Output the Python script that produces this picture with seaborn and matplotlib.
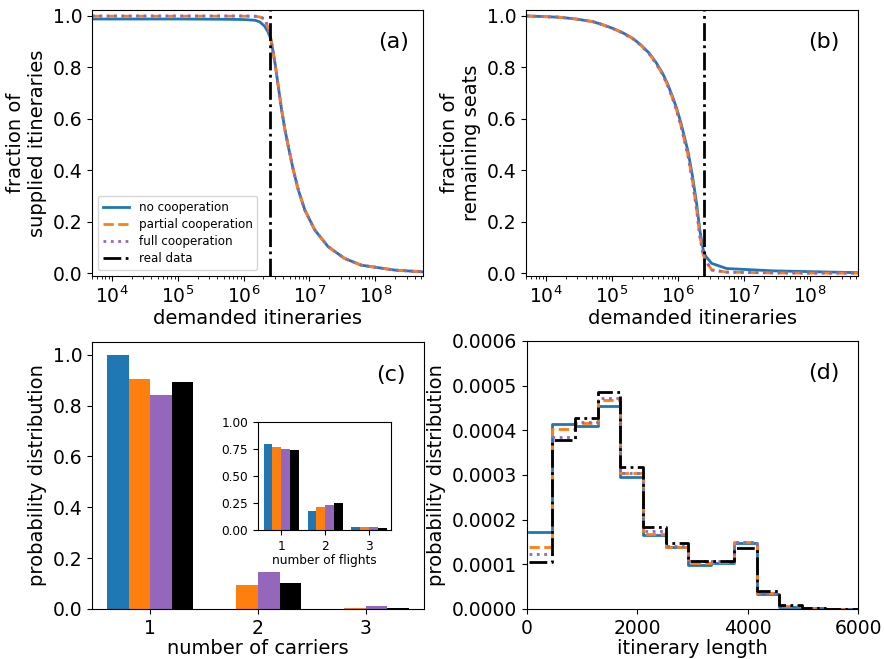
import matplotlib
matplotlib.use("Agg")
import matplotlib.pyplot as plt
import numpy as np
import pandas as pd
import seaborn as sns

# ---------------- data ----------------
models = ["no cooperation", "partial cooperation", "full cooperation", "real data"]
colors = ["#1f77b4", "#ff7f0e", "#9467bd", "black"]
styles = ["-", "--", ":", "-."]

real_demand = 2.5e6  # demanded itineraries in the real data

# (a) fraction of supplied itineraries vs demanded itineraries
demand_a = [5.0e3, 1.0e4, 1.0e5, 5.0e5, 1.0e6, 1.5e6, 1.76e6, 2.09e6, 2.35e6, 2.5e6,
            2.61e6, 3.0e6, 3.37e6, 3.78e6, 4.25e6, 4.78e6, 5.69e6, 6.78e6, 8.52e6,
            1.21e7, 1.92e7, 3.43e7, 6.14e7, 1.96e8, 5.3e8]
supplied_tail = [0.908, 0.817, 0.726, 0.635, 0.558, 0.493, 0.402, 0.324, 0.246,
                 0.168, 0.104, 0.058, 0.032, 0.013, 0.006]
supplied_none = [0.988, 0.988, 0.988, 0.987, 0.986, 0.983, 0.977, 0.960, 0.938, 0.921] + supplied_tail
supplied_partial = [0.999, 0.999, 0.999, 0.999, 0.999, 0.998, 0.996, 0.987, 0.955, 0.925] + supplied_tail
supplied_full = [1.0, 1.0, 1.0, 1.0, 1.0, 0.999, 0.997, 0.989, 0.958, 0.926] + supplied_tail

# (b) fraction of remaining seats vs demanded itineraries
demand_b = [5.0e3, 1.6e4, 2.85e4, 5.1e4, 7.2e4, 1.02e5, 1.45e5, 2.06e5, 2.75e5, 3.67e5,
            4.63e5, 5.85e5, 6.95e5, 8.28e5, 9.6e5, 1.11e6, 1.24e6, 1.40e6, 1.53e6,
            1.66e6, 1.78e6, 1.91e6, 2.02e6, 2.14e6, 2.27e6, 2.41e6, 2.62e6, 3.23e6,
            5.45e6, 2.75e7, 5.3e8]
seats_none = [1.0, 0.995, 0.988, 0.978, 0.966, 0.952, 0.935, 0.913, 0.887, 0.855,
              0.820, 0.777, 0.736, 0.686, 0.639, 0.583, 0.534, 0.479, 0.427,
              0.376, 0.324, 0.272, 0.220, 0.168, 0.129, 0.091, 0.067, 0.039,
              0.019, 0.010, 0.003]
seats_partial = [1.0, 0.995, 0.988, 0.978, 0.966, 0.952, 0.934, 0.912, 0.886, 0.853,
                 0.817, 0.773, 0.731, 0.680, 0.631, 0.573, 0.522, 0.465, 0.410,
                 0.357, 0.303, 0.250, 0.198, 0.146, 0.108, 0.072, 0.050, 0.014,
                 0.005, 0.002, 0.001]
seats_full = [1.0, 0.995, 0.988, 0.978, 0.966, 0.952, 0.934, 0.912, 0.885, 0.852,
              0.816, 0.772, 0.730, 0.679, 0.629, 0.571, 0.520, 0.463, 0.408,
              0.355, 0.301, 0.248, 0.196, 0.144, 0.106, 0.070, 0.049, 0.013,
              0.005, 0.002, 0.001]

# (c) number of carriers per itinerary
carriers = ["1", "2", "3"]
carriers_none = [1.000, 0.001, 0.000]
carriers_partial = [0.903, 0.093, 0.003]
carriers_full = [0.840, 0.147, 0.011]
carriers_real = [0.894, 0.103, 0.003]

# (c, inset) number of flights per itinerary
flights = ["1", "2", "3"]
flights_none = [0.796, 0.176, 0.025]
flights_partial = [0.768, 0.211, 0.025]
flights_full = [0.752, 0.232, 0.025]
flights_real = [0.740, 0.251, 0.015]

# (d) itinerary length distribution
length_edges = [43, 455, 867, 1279, 1691, 2103, 2515, 2927, 3339, 3751, 4163,
                4575, 4987, 5399, 5811, 6223]
length_none = [1.73e-4, 4.15e-4, 4.10e-4, 4.55e-4, 2.95e-4, 1.66e-4, 1.38e-4, 0.99e-4,
               1.02e-4, 1.48e-4, 0.33e-4, 0.05e-4, 0.02e-4, 0.01e-4, 0.01e-4]
length_partial = [1.39e-4, 4.02e-4, 4.17e-4, 4.67e-4, 3.04e-4, 1.69e-4, 1.39e-4, 1.04e-4,
                  1.06e-4, 1.49e-4, 0.35e-4, 0.07e-4, 0.02e-4, 0.01e-4, 0.01e-4]
length_full = [1.23e-4, 3.85e-4, 4.19e-4, 4.73e-4, 3.05e-4, 1.75e-4, 1.42e-4, 1.07e-4,
               1.08e-4, 1.51e-4, 0.35e-4, 0.07e-4, 0.02e-4, 0.01e-4, 0.01e-4]
length_real = [1.06e-4, 3.78e-4, 4.28e-4, 4.86e-4, 3.18e-4, 1.84e-4, 1.48e-4, 1.08e-4,
               1.08e-4, 1.36e-4, 0.40e-4, 0.08e-4, 0.02e-4, 0.01e-4, 0.01e-4]

# ---------------- figure ----------------
TICK, LABEL, PANEL = 13.5, 14, 16
plt.rcParams.update({"xtick.labelsize": TICK, "ytick.labelsize": TICK,
                     "axes.labelsize": LABEL})

W, H = 884, 659
fig = plt.figure(figsize=(W / 100, H / 100), dpi=100)


def px_axes(left, top, right, bottom):
    return fig.add_axes([left / W, 1 - bottom / H, (right - left) / W, (bottom - top) / H])


ax_a = px_axes(92, 10, 423, 276)
ax_b = px_axes(526, 10, 858, 276)
ax_c = px_axes(92, 342, 424, 609)
ax_d = px_axes(527, 341, 858, 609)
ax_in = px_axes(258, 422, 391, 530)

# (a)
for ys, lab, c, ls in zip([supplied_none, supplied_partial, supplied_full], models, colors, styles):
    sns.lineplot(x=demand_a, y=ys, ax=ax_a, color=c, linestyle=ls, linewidth=2, label=lab)
ax_a.axvline(real_demand, color="black", linestyle="-.", linewidth=2, label="real data")
ax_a.set_xscale("log")
ax_a.set_xlim(5e3, 5.3e8)
ax_a.set_ylim(-0.01, 1.023)
ax_a.set_yticks([0.0, 0.2, 0.4, 0.6, 0.8, 1.0])
ax_a.set_xlabel("demanded itineraries", labelpad=1)
ax_a.set_ylabel("fraction of\nsupplied itineraries")
ax_a.legend(loc="lower left", fontsize=8.6, handlelength=2.2, labelspacing=0.35)
ax_a.text(0.91, 0.88, "(a)", transform=ax_a.transAxes, fontsize=PANEL, ha="center", va="center")

# (b)
for ys, c, ls in zip([seats_none, seats_partial, seats_full], colors, styles):
    sns.lineplot(x=demand_b, y=ys, ax=ax_b, color=c, linestyle=ls, linewidth=2)
ax_b.axvline(real_demand, color="black", linestyle="-.", linewidth=2)
ax_b.set_xscale("log")
ax_b.set_xlim(5e3, 5.3e8)
ax_b.set_ylim(-0.01, 1.023)
ax_b.set_yticks([0.0, 0.2, 0.4, 0.6, 0.8, 1.0])
ax_b.set_xlabel("demanded itineraries", labelpad=1)
ax_b.set_ylabel("fraction of\nremaining seats")
ax_b.text(0.898, 0.88, "(b)", transform=ax_b.transAxes, fontsize=PANEL, ha="center", va="center")


def long_table(cats, series, col):
    return pd.DataFrame({
        col: [c for _ in series for c in cats],
        "model": [m for m, s in zip(models, series) for _ in s],
        "prob": [v for s in series for v in s],
    })


# (c)
df_c = long_table(carriers, [carriers_none, carriers_partial, carriers_full, carriers_real], "carriers")
sns.barplot(data=df_c, x="carriers", y="prob", hue="model", hue_order=models,
            palette=colors, saturation=1, errorbar=None, legend=False, width=0.8, ax=ax_c)
ax_c.set_xlim(-0.54, 2.54)
ax_c.set_ylim(0, 1.05)
ax_c.set_yticks([0.0, 0.2, 0.4, 0.6, 0.8, 1.0])
ax_c.set_xlabel("number of carriers", labelpad=1)
ax_c.set_ylabel("probability distribution")
ax_c.text(0.90, 0.878, "(c)", transform=ax_c.transAxes, fontsize=PANEL, ha="center", va="center")

# (c) inset
df_in = long_table(flights, [flights_none, flights_partial, flights_full, flights_real], "flights")
sns.barplot(data=df_in, x="flights", y="prob", hue="model", hue_order=models,
            palette=colors, saturation=1, errorbar=None, legend=False, width=0.8, ax=ax_in)
ax_in.set_xlim(-0.53, 2.5)
ax_in.set_ylim(0, 1.0)
ax_in.set_yticks([0.0, 0.25, 0.5, 0.75, 1.0])
ax_in.tick_params(labelsize=8.7)
ax_in.set_xlabel("number of flights", fontsize=8.7, labelpad=1)
ax_in.set_ylabel("")

# (d)
centers = [(lo + hi) / 2 for lo, hi in zip(length_edges[:-1], length_edges[1:])]
for vals, c, ls in zip([length_none, length_partial, length_full, length_real], colors, styles):
    sns.histplot(x=centers, weights=vals, bins=length_edges, element="step", fill=False,
                 color=c, linestyle=ls, linewidth=2, ax=ax_d)
ax_d.set_xlim(0, 6000)
ax_d.set_ylim(0, 0.0006)
ax_d.set_xticks([0, 2000, 4000, 6000])
ax_d.set_yticks([0.0, 0.0001, 0.0002, 0.0003, 0.0004, 0.0005, 0.0006])
ax_d.set_xlabel("itinerary length", labelpad=1)
ax_d.set_ylabel("probability distribution")
ax_d.text(0.897, 0.88, "(d)", transform=ax_d.transAxes, fontsize=PANEL, ha="center", va="center")

fig.savefig("out.png", dpi=100)
